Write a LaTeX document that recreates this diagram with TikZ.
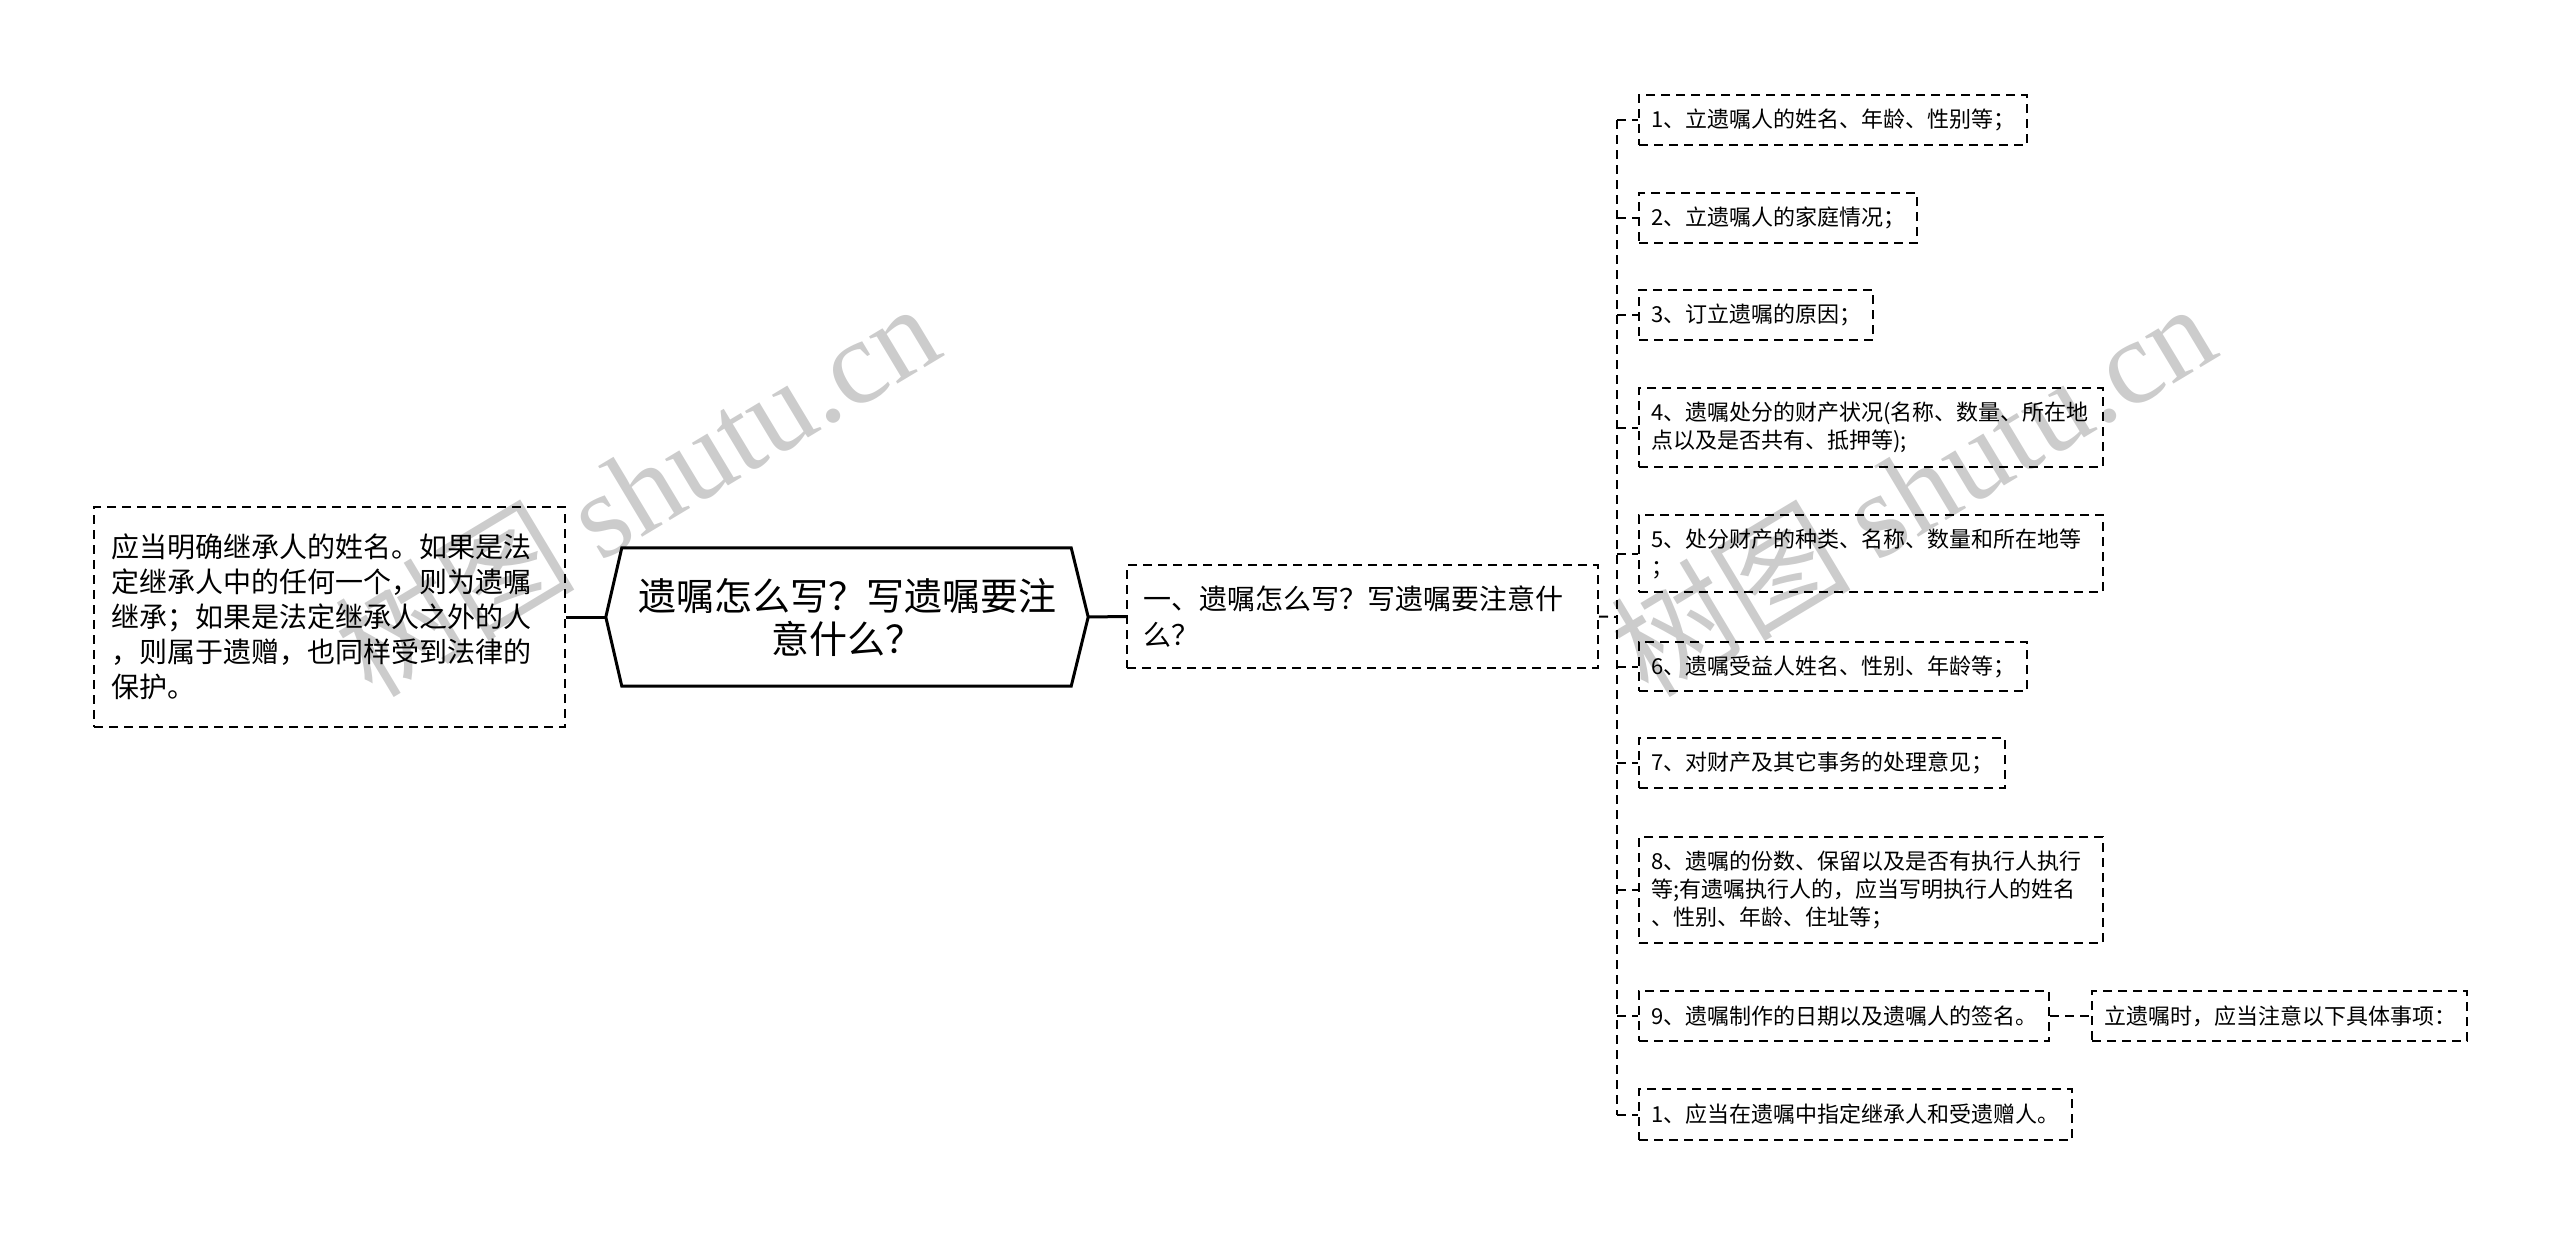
\documentclass[tikz,border=0pt]{standalone}
\usepackage{fontspec}
\setmainfont{Noto Sans CJK SC}
\newfontfamily\wmserif{Liberation Serif}
\usetikzlibrary{calc}
\begin{document}
\begin{tikzpicture}[x=1pt,y=-1pt,
  dbox/.style={draw=black, line width=2pt, dash pattern=on 9pt off 6pt, inner xsep=12pt, inner ysep=0pt, anchor=west, align=left, font=\fontsize{22pt}{28pt}\selectfont},
  bigbox/.style={draw=black, line width=2pt, dash pattern=on 9pt off 6pt, inner ysep=0pt, anchor=west, align=left},
  conn/.style={draw=black, line width=2pt, dash pattern=on 9pt off 6pt},
  solidconn/.style={draw=black, line width=3pt},
  wmark/.style={rotate=31, anchor=base west, text=black, opacity=0.2, font=\fontsize{120pt}{120pt}\selectfont, inner sep=0pt}
]
\useasboundingbox (0,0) rectangle (2560,1234);

% central topic
\node[minimum width=482pt, minimum height=138pt, inner sep=0pt, align=center, font=\fontsize{38pt}{43pt}\selectfont] (hex) at (847,617) {遗嘱怎么写？写遗嘱要注\\意什么？};
\draw[line width=3pt, line join=miter] (hex.west) -- ($(hex.north west)+(16,0)$) -- ($(hex.north east)+(-17,0)$) -- (hex.east) -- ($(hex.south east)+(-17,0)$) -- ($(hex.south west)+(16,0)$) -- cycle;

% left box
\node[bigbox, inner xsep=17pt, minimum width=471pt, text width=437pt, minimum height=220pt, font=\fontsize{28pt}{35pt}\selectfont] (lbox) at (93,617) {应当明确继承人的姓名。如果是法\\定继承人中的任何一个，则为遗嘱\\继承；如果是法定继承人之外的人\\，则属于遗赠，也同样受到法律的\\保护。};

% first-level right box
\node[bigbox, inner xsep=16pt, minimum width=471pt, text width=439pt, minimum height=103pt, font=\fontsize{28pt}{36pt}\selectfont] (b1) at (1126,616.5) {一、遗嘱怎么写？写遗嘱要注意什\\么？};

% items
\node[dbox, minimum width=388pt, text width=364pt, minimum height=50pt] (i1) at (1638,120) {1、立遗嘱人的姓名、年龄、性别等；};
\node[dbox, minimum width=278pt, text width=254pt, minimum height=50pt] (i2) at (1638,218) {2、立遗嘱人的家庭情况；};
\node[dbox, minimum width=234pt, text width=210pt, minimum height=50pt] (i3) at (1638,315) {3、订立遗嘱的原因；};
\node[dbox, minimum width=464pt, text width=440pt, minimum height=79pt] (i4) at (1638,427.5) {4、遗嘱处分的财产状况(名称、数量、所在地\\点以及是否共有、抵押等);};
\node[dbox, minimum width=464pt, text width=440pt, minimum height=77pt] (i5) at (1638,553.5) {5、处分财产的种类、名称、数量和所在地等\\；};
\node[dbox, minimum width=388pt, text width=364pt, minimum height=49pt] (i6) at (1638,666.5) {6、遗嘱受益人姓名、性别、年龄等；};
\node[dbox, minimum width=366pt, text width=342pt, minimum height=50pt] (i7) at (1638,763) {7、对财产及其它事务的处理意见；};
\node[dbox, minimum width=464pt, text width=440pt, minimum height=106pt] (i8) at (1638,890) {8、遗嘱的份数、保留以及是否有执行人执行\\等;有遗嘱执行人的，应当写明执行人的姓名\\、性别、年龄、住址等；};
\node[dbox, minimum width=410pt, text width=386pt, minimum height=50pt] (i9) at (1638,1016) {9、遗嘱制作的日期以及遗嘱人的签名。};
\node[dbox, minimum width=433pt, text width=409pt, minimum height=51pt] (i10) at (1638,1114.5) {1、应当在遗嘱中指定继承人和受遗赠人。};
\node[dbox, minimum width=375pt, text width=351pt, minimum height=50pt] (side) at (2091,1016) {立遗嘱时，应当注意以下具体事项：};

% connectors
\draw[solidconn] (lbox.east) -- (hex.west);
\draw[solidconn] (hex.east) -- (b1.west);
\coordinate (tk) at (1617,617);
\draw[conn] (b1.east) -- (tk);
\draw[conn] (tk |- i1.west) -- (tk |- i10.west);
\foreach \n in {i1,i2,i3,i4,i5,i6,i7,i8,i9,i10}
  \draw[conn] (tk |- \n.west) -- (\n.west);
\draw[conn] (i9.east) -- (side.west);

% watermarks
\node[wmark] (wm1) at (372,700) {树图 {\wmserif shutu.cn}};
\node[wmark] (wm2) at (1648,700) {树图 {\wmserif shutu.cn}};
\end{tikzpicture}
\end{document}
